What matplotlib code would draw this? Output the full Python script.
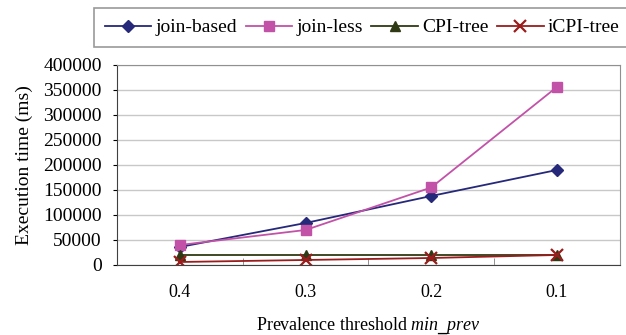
import matplotlib
matplotlib.use("Agg")
import matplotlib.pyplot as plt
from matplotlib.ticker import FixedLocator

plt.rcParams['font.family'] = 'Liberation Serif'
plt.rcParams['mathtext.fontset'] = 'custom'
plt.rcParams['mathtext.it'] = 'Liberation Serif:italic'

thresholds = ['0.4', '0.3', '0.2', '0.1']
join_based = [36000, 84000, 138000, 190000]
join_less = [40000, 70000, 155000, 356000]
cpi_tree = [20000, 20000, 20000, 20000]
icpi_tree = [6000, 10000, 14000, 20000]

fig = plt.figure(figsize=(6.26, 3.35), dpi=100)
ax = fig.add_axes([0.187, 0.209, 0.803, 0.597])

x = range(len(thresholds))
ax.plot(x, join_based, color='#26287a', marker='D', markersize=6, lw=1.3, label='join-based')
ax.plot(x, join_less, color='#c252a8', marker='s', markersize=7, lw=1.3, label='join-less')
ax.plot(x, cpi_tree, color='#2f3a14', marker='^', markersize=7, lw=1.3, label='CPI-tree')
ax.plot(x, icpi_tree, color='#9a1c1c', marker='x', markersize=8, mew=1.6, lw=1.3, label='iCPI-tree')

ax.set_xlim(-0.5, 3.5)
ax.set_ylim(0, 400000)
ax.set_yticks(range(0, 400001, 50000))
ax.set_xticks(list(x))
ax.set_xticklabels(thresholds)
ax.xaxis.set_minor_locator(FixedLocator([0.5, 1.5, 2.5]))
ax.tick_params(axis='x', which='major', length=0, pad=14, labelsize=13)
ax.tick_params(axis='x', which='minor', direction='in', length=5, color='#808080')
ax.tick_params(axis='y', length=3, labelsize=14, pad=8)
ax.yaxis.grid(True, color='#c8c8c8', lw=1)
ax.set_axisbelow(True)

for side in ['left', 'bottom']:
    ax.spines[side].set_color('#404040')
for side in ['top', 'right']:
    ax.spines[side].set_color('#909090')

ax.set_ylabel('Execution time (ms)', fontsize=14, labelpad=7)
ax.set_xlabel('Prevalence threshold $min\\_prev$', fontsize=13, labelpad=10)

leg = fig.legend(loc='upper left', bbox_to_anchor=(0.150, 0.976), ncol=4, fontsize=14,
                 frameon=True, fancybox=False, edgecolor='#808080', handlelength=2.4,
                 columnspacing=0.45, handletextpad=0.2, borderpad=0.55, borderaxespad=0)
leg.get_frame().set_linewidth(1.2)

fig.savefig('out.png', dpi=100)
